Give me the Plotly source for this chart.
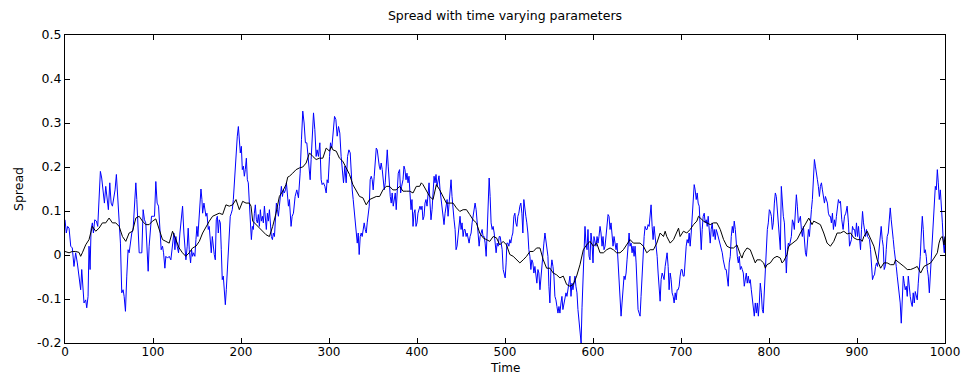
import plotly.graph_objects as go

# ---- data ----
t_blue = [
 0,1.5,3.0,4.6,6.5,8.3,10.2,12.1,14.0,15.9,17.8,19.0,20.5,21.6,23.5,24.7,26.2,27.3,28.5,29.6,
 31.1,32.3,33.8,35.7,37.2,38.7,40.2,41.7,43.3,44.8,46.3,47.8,49.3,50.9,52.4,53.9,55.4,56.9,58.4,60.0,
 61.5,63.0,64.5,66.0,67.2,68.7,70.2,71.7,72.9,74.4,75.9,77.4,78.9,80.5,81.6,82.7,84.3,85.8,87.3,88.8,
 90.3,91.8,93.4,94.5,95.6,96.8,98.3,100.2,101.7,103.2,104.7,106.3,107.8,109.3,110.8,112.0,113.5,114.6,116.5,118.4,120.3,
 122.2,123.7,124.9,126.0,127.5,129.0,130.6,132.1,133.6,135.1,136.2,137.4,138.9,140.0,141.2,142.7,143.8,145.0,146.1,147.6,
 148.8,149.9,151.0,152.2,153.3,154.5,155.6,156.4,157.9,159.0,160.2,161.3,162.8,163.9,165.1,166.2,167.4,168.5,169.6,170.8,
 171.9,173.1,174.2,175.3,176.5,177.6,178.7,179.9,181.0,182.2,183.3,184.4,185.6,186.7,187.8,189.0,190.1,191.3,192.4,193.5,
 194.7,195.8,197.0,198.1,199.2,200.4,201.5,202.7,203.8,204.9,206.1,207.2,208.3,209.5,210.6,211.8,212.9,214.0,215.2,216.3,
 217.5,218.6,219.7,220.9,222.0,223.1,224.3,225.4,226.6,227.7,228.8,230.0,231.1,232.3,233.4,234.5,235.7,236.8,238.0,239.1,
 240.2,241.4,242.5,243.6,244.8,245.9,247.1,248.2,249.3,250.5,251.6,252.7,253.9,255.0,
 256.9,258.1,259.6,261.5,263.4,265.3,267.2,268.7,270.2,271.7,273.2,274.8,275.9,277.0,278.6,279.7,280.8,282.4,283.9,285.4,
 286.5,288.0,289.6,291.1,292.2,293.7,295.3,296.8,297.9,299.0,300.6,301.7,303.2,304.7,306.3,307.8,309.3,310.8,312.3,313.8,
 315.4,316.5,318.0,319.5,321.1,322.6,324.1,325.2,326.4,327.5,328.6,329.8,330.9,332.1,333.2,334.3,335.5,336.6,337.7,338.9,
 340.0,341.2,342.3,343.4,344.6,345.7,346.8,348.0,349.1,350.2,351.4,352.5,353.7,354.8,355.9,357.1,358.2,359.3,360.5,361.6,
 362.8,363.9,365.0,366.2,367.3,368.4,369.6,370.7,371.8,373.0,374.1,375.3,376.4,377.5,378.7,380.2,
 381.4,382.5,384.1,385.2,386.3,387.5,388.6,389.8,390.9,392.0,393.2,394.3,395.5,396.6,397.7,398.9,400.0,401.1,402.3,403.4,
 404.6,405.7,406.8,408.0,409.1,410.2,411.4,412.5,413.7,414.8,415.9,417.1,418.2,419.4,420.5,421.6,422.8,423.9,425.0,426.2,
 427.3,428.5,429.6,430.7,431.9,433.0,434.2,435.3,436.4,437.6,438.7,439.8,441.0,442.1,443.3,444.4,445.5,446.7,447.8,448.9,
 450.1,451.2,452.4,453.5,454.6,455.8,456.9,458.1,459.2,460.3,461.5,462.6,463.8,464.9,466.0,467.2,468.3,469.4,470.6,471.7,
 472.9,474.0,475.1,476.3,477.4,478.6,479.7,480.8,482.0,483.1,484.2,485.4,486.5,487.7,488.8,489.9,491.1,492.2,493.4,494.5,
 495.6,496.8,497.9,499.1,500.2,501.3,
 502.1,503.2,504.4,505.5,506.6,507.8,508.9,510.1,511.2,512.3,513.5,514.6,515.7,516.9,518.0,519.2,520.3,521.4,522.6,523.7,
 524.8,526.0,527.1,528.3,529.4,530.5,531.7,532.8,534.0,535.1,536.2,537.4,538.5,539.7,540.8,541.9,543.1,544.2,545.4,546.5,
 547.6,548.8,549.9,551.0,552.2,553.3,554.5,555.6,556.7,557.9,559.0,560.2,561.3,562.4,563.6,564.7,565.8,567.0,568.1,569.3,
 570.4,571.5,572.7,573.8,575.0,576.1,577.2,578.4,579.5,580.6,581.8,582.9,584.1,586.5,587.5,588.6,589.8,590.9,592.0,593.2,
 594.3,595.5,596.6,597.7,598.9,600.0,601.1,602.3,603.4,604.6,605.7,606.8,608.0,609.1,610.3,611.4,612.5,613.7,614.8,615.9,
 617.1,618.2,619.4,620.5,621.6,622.8,623.9,625.1,626.2,627.3,628.5,629.6,
 630.7,631.9,633.0,634.2,635.3,636.4,637.6,638.7,639.8,641.0,642.1,643.3,644.4,645.5,646.7,647.8,649.0,650.1,651.2,652.4,
 653.5,654.6,655.8,656.9,658.1,659.2,660.3,661.5,662.6,663.8,664.9,666.0,667.2,668.3,669.4,670.6,671.7,672.9,674.0,675.1,
 676.3,677.4,678.6,679.7,680.8,682.0,683.1,684.2,685.4,686.5,687.7,688.8,689.9,691.1,692.2,693.4,694.5,695.6,696.8,697.9,
 699.0,700.2,701.3,702.5,703.6,704.7,705.9,707.0,708.2,709.3,710.4,711.6,712.7,713.9,715.0,716.1,717.3,718.4,719.5,720.7,
 721.8,723.0,724.1,725.2,726.4,727.5,728.7,729.8,730.9,732.1,733.2,734.3,735.5,736.6,737.8,738.9,740.0,741.2,742.3,743.5,
 744.6,745.7,746.9,748.0,749.1,750.3,751.4,752.6,753.7,754.8,756.0,
 757.1,758.3,759.4,760.5,761.7,762.8,764.0,765.1,766.2,767.4,768.5,769.6,770.8,771.9,773.1,774.2,775.3,776.5,777.6,778.7,
 779.9,781.0,782.2,783.3,784.4,785.6,786.7,787.9,789.0,790.1,791.3,792.4,793.5,794.7,795.8,797.0,798.1,799.2,800.4,801.5,
 802.7,803.8,804.9,806.1,807.2,808.3,809.5,810.6,811.8,812.9,814.0,815.2,816.3,817.5,818.6,819.7,820.9,822.0,823.1,824.3,
 825.4,826.6,827.7,828.8,830.0,831.1,832.2,833.4,834.5,835.7,836.8,837.9,839.1,840.2,841.4,842.5,843.6,844.8,845.9,847.0,
 848.2,849.3,850.5,851.6,852.7,853.9,855.0,856.1,857.3,858.4,859.6,860.7,861.8,863.0,864.1,865.3,866.4,867.5,868.7,869.8,
 870.9,872.1,873.2,874.4,875.5,876.6,877.8,878.9,880.0,881.2,
 882.7,884.2,885.8,887.3,888.8,890.3,891.5,892.6,893.7,894.9,896.0,897.2,898.3,899.4,900.6,901.7,902.8,904.0,905.1,906.3,
 907.4,908.5,909.7,910.8,912.0,913.1,914.2,915.4,916.5,917.6,918.8,919.9,921.1,922.2,923.3,924.5,925.6,926.7,927.5,928.7,
 929.8,930.9,932.1,933.2,934.3,935.5,936.6,937.8,938.9,940.0,941.2,942.3,943.5,944.6,945.7,946.9,948.0,949.1,950.3,951.4,
 952.6,953.7,954.8,956.0,957.1,958.3,959.4,960.5,961.7,962.8,963.9,965.1,966.2,967.4,968.5,969.6,970.8,971.9,973.1,974.2,
 975.3,976.5,977.6,978.7,979.9,981.0,982.2,983.3,984.4,985.6,986.7,987.9,989.0,990.1,991.3,992.4,993.5,994.7,995.8,997.0,
 998.1,999.2,1000,
]
spread_blue = [
 0.080,0.050,0.065,0.061,0.020,0.016,-0.026,0.005,-0.018,-0.056,-0.079,-0.033,-0.086,-0.109,-0.102,-0.120,-0.094,0.020,-0.033,0.058,
 0.073,0.050,0.080,0.077,0.065,0.141,0.190,0.175,0.148,0.118,0.156,0.126,0.103,0.164,0.118,0.111,0.133,0.148,0.183,0.126,
 0.058,0.027,-0.086,-0.079,-0.094,-0.128,-0.048,0.012,0.005,0.027,0.050,0.058,0.111,0.164,0.126,0.073,0.005,0.005,0.005,0.103,
 0.080,0.073,0.020,-0.037,0.020,0.050,0.088,0.088,0.088,0.167,0.118,0.111,0.050,0.012,0.020,0.005,-0.030,-0.003,-0.007,-0.003,-0.011,
 0.027,0.050,0.012,0.042,0.020,0.005,0.050,0.092,0.111,0.050,0.020,-0.011,0.020,0.061,0.012,-0.018,0.012,-0.003,0.005,-0.003,
 0.035,0.065,0.042,0.088,0.118,0.150,0.126,0.095,0.118,0.103,0.088,0.095,0.058,0.065,0.020,0.005,0.042,0.012,0.001,-0.011,
 0.080,0.088,0.050,0.080,0.073,0.012,-0.056,-0.048,-0.071,-0.113,-0.079,-0.033,-0.003,0.050,0.088,0.095,0.103,0.126,0.164,0.202,
 0.247,0.270,0.292,0.262,0.232,0.247,0.194,0.202,0.179,0.194,0.220,0.171,0.164,0.118,0.088,0.035,0.065,0.058,0.095,0.114,
 0.080,0.073,0.092,0.065,0.103,0.077,0.088,0.073,0.111,0.080,0.058,0.095,0.077,0.103,0.073,0.042,0.035,0.050,0.042,0.073,
 0.118,0.103,0.088,0.111,0.141,0.156,0.133,0.148,0.141,0.148,0.164,0.133,0.111,0.126,
 0.065,0.088,0.095,0.133,0.148,0.130,0.186,0.262,0.327,0.300,0.255,0.255,0.232,0.217,0.171,0.217,0.270,0.323,0.285,0.224,
 0.239,0.224,0.255,0.171,0.160,0.164,0.156,0.141,0.171,0.164,0.224,0.255,0.243,0.285,0.315,0.308,0.270,0.292,0.277,0.224,
 0.194,0.164,0.202,0.164,0.224,0.239,0.232,0.186,0.148,0.126,0.103,0.088,0.058,0.027,0.050,0.001,0.042,0.050,0.042,0.058,
 0.073,0.058,0.050,0.073,0.088,0.111,0.171,0.179,0.171,0.148,0.179,0.217,0.243,0.239,0.217,0.202,0.194,0.209,0.194,0.171,
 0.148,0.164,0.194,0.239,0.202,0.164,0.133,0.118,0.141,0.111,0.126,0.141,0.103,0.148,0.186,0.194,
 0.141,0.156,0.171,0.202,0.194,0.171,0.186,0.164,0.179,0.141,0.103,0.126,0.065,0.095,0.103,0.065,0.073,0.095,0.107,0.111,
 0.103,0.111,0.080,0.088,0.118,0.126,0.111,0.148,0.164,0.118,0.080,0.103,0.141,0.179,0.164,0.183,0.156,0.171,0.180,0.148,
 0.126,0.118,0.095,0.069,0.095,0.118,0.126,0.088,0.111,0.133,0.171,0.133,0.095,0.080,0.058,0.012,0.020,0.042,0.065,0.088,
 0.058,0.073,0.042,0.058,0.058,0.042,0.050,0.035,0.027,0.042,0.050,0.073,0.088,0.111,0.118,0.103,0.073,0.042,0.020,0.042,
 0.050,0.058,0.042,0.042,0.027,-0.003,0.050,0.103,0.175,0.133,0.073,0.058,0.065,0.050,0.020,0.005,0.027,0.020,0.042,0.042,
 0.027,0.012,-0.033,-0.041,-0.052,-0.018,
 0.027,0.027,0.020,0.035,0.027,0.042,0.050,0.088,0.095,0.073,0.065,0.088,0.095,0.111,0.118,0.095,0.050,0.126,0.095,0.088,
 0.073,0.050,0.012,-0.003,-0.033,-0.011,-0.018,-0.041,-0.026,-0.048,-0.064,-0.033,-0.041,-0.079,-0.048,-0.018,0.005,0.027,0.050,0.035,
 0.020,-0.003,-0.071,-0.109,-0.033,-0.011,-0.026,-0.048,-0.094,-0.102,-0.117,-0.132,-0.117,-0.132,-0.109,-0.094,-0.124,-0.109,-0.102,-0.086,
 -0.094,-0.079,-0.071,-0.048,-0.094,-0.064,-0.079,-0.056,-0.048,-0.071,-0.086,-0.124,-0.155,-0.200,-0.120,-0.048,0.012,0.065,0.027,0.012,
 0.058,-0.003,-0.011,0.050,0.027,-0.018,0.042,0.027,0.020,0.042,0.027,0.042,0.065,0.050,0.020,0.042,0.012,0.020,0.042,0.073,
 0.092,0.088,0.058,0.073,0.042,0.020,0.042,0.027,0.012,0.027,-0.011,-0.064,
 -0.094,-0.139,-0.109,-0.079,-0.048,-0.056,-0.041,-0.011,0.020,0.050,0.020,0.027,0.005,0.020,-0.003,0.020,-0.018,-0.079,-0.124,-0.132,
 -0.139,-0.094,-0.033,-0.003,0.042,0.065,0.058,0.058,0.069,0.065,0.088,0.114,0.065,0.035,0.065,0.042,0.027,-0.003,-0.041,-0.079,
 -0.105,-0.056,-0.041,-0.048,-0.056,-0.026,-0.011,0.005,-0.026,-0.079,-0.041,-0.056,-0.086,-0.094,-0.109,-0.086,-0.102,-0.079,-0.079,-0.071,
 -0.048,-0.033,-0.033,-0.048,-0.048,-0.011,0.020,0.035,0.027,0.050,0.020,0.050,0.088,0.133,0.160,0.148,0.126,0.141,0.118,0.111,
 0.058,0.012,0.058,0.088,0.095,0.073,0.080,0.065,0.088,0.058,0.027,0.058,0.073,0.042,0.058,0.035,0.058,0.050,0.042,0.027,
 0.020,0.012,0.005,-0.011,-0.026,-0.033,-0.033,-0.048,-0.071,-0.018,-0.003,
 0.042,0.065,0.050,0.077,0.058,0.020,-0.003,-0.018,-0.003,-0.033,-0.026,-0.033,-0.041,-0.071,-0.048,-0.041,-0.064,-0.048,-0.064,-0.056,
 -0.079,-0.102,-0.124,-0.139,-0.109,-0.132,-0.109,-0.139,-0.109,-0.064,-0.086,-0.124,-0.132,-0.079,-0.018,0.020,0.058,0.073,0.103,0.099,
 0.088,0.058,0.073,0.118,0.141,0.133,0.103,0.088,0.058,0.012,0.156,0.111,0.088,0.073,0.012,-0.041,0.012,0.027,0.020,0.035,
 0.042,0.080,0.073,0.058,0.111,0.137,0.111,0.073,0.080,0.088,0.058,0.042,0.065,0.035,0.005,-0.003,0.020,0.058,0.042,0.080,
 0.103,0.126,0.171,0.217,0.202,0.179,0.171,0.156,0.133,0.156,0.164,0.148,0.126,0.118,0.133,0.126,0.118,0.095,0.088,0.088,
 0.073,0.095,0.058,0.080,0.065,0.088,0.118,0.126,0.118,0.122,
 0.080,0.058,0.088,0.095,0.111,0.073,0.020,0.027,0.035,0.065,0.058,0.058,0.042,0.073,0.042,0.065,0.035,0.012,0.058,0.099,
 0.073,0.050,0.042,0.058,0.042,0.039,0.035,0.012,-0.018,-0.056,-0.048,-0.045,-0.026,-0.018,-0.026,-0.003,0.020,0.042,0.065,0.035,
 0.020,-0.033,-0.026,0.012,0.042,0.050,0.073,0.107,0.080,0.050,0.035,0.012,-0.003,-0.026,-0.048,-0.071,-0.079,-0.109,-0.155,-0.117,
 -0.048,-0.064,-0.079,-0.071,-0.094,-0.048,-0.079,-0.094,-0.109,-0.117,-0.086,-0.109,-0.083,-0.094,-0.102,-0.064,-0.033,-0.003,0.050,0.088,
 0.058,0.005,0.012,-0.003,-0.033,-0.048,-0.086,-0.048,-0.003,0.042,0.088,0.133,0.156,0.148,0.194,0.164,0.126,0.148,0.118,0.073,
 0.027,0.005,0.042,
]

t_black = [
 0,4.6,8.3,12.1,15.9,17.8,19.7,23.5,27.3,31.1,34.9,38.7,42.5,46.3,50.1,53.9,57.7,61.5,65.3,69.1,
 72.9,76.7,80.5,84.3,88.0,91.8,95.6,99.4,103.2,107.0,110.8,114.6,118.4,122.2,
 125.9,129.7,133.5,137.3,141.1,145.0,148.8,152.6,156.4,160.2,164.0,167.7,171.5,175.3,179.1,182.9,186.7,190.5,194.3,198.1,
 201.9,205.7,209.5,211.4,213.3,217.1,220.9,224.7,228.5,232.3,236.0,239.8,243.6,247.4,251.2,253.1,255.0,
 258.8,262.6,266.5,270.2,274.0,277.8,281.6,285.4,289.2,293.0,296.8,300.6,302.5,304.4,308.2,311.9,315.7,319.5,323.3,327.1,
 330.9,334.7,338.5,342.3,346.1,349.9,353.7,357.5,361.3,365.0,368.8,372.6,376.4,380.2,
 384.1,387.9,391.7,395.5,399.2,403.0,404.9,406.8,410.6,414.4,418.2,420.1,422.0,425.8,429.6,433.4,437.2,441.0,444.8,448.6,
 452.4,456.2,459.9,463.7,467.5,471.3,475.1,478.9,482.7,486.5,490.3,494.1,497.9,501.7,505.5,
 509.3,513.1,516.9,520.7,524.5,528.3,532.1,535.9,539.7,543.5,547.3,551.1,554.8,558.6,562.4,566.2,570.0,573.8,577.6,581.4,
 585.2,589.0,592.8,596.6,600.4,604.2,608.0,611.8,615.6,619.4,623.1,626.9,630.7,
 634.5,638.3,642.1,645.9,649.7,653.5,657.3,661.1,664.9,668.7,672.5,676.3,680.1,682.0,683.8,687.7,691.5,695.3,697.2,699.0,
 702.8,706.6,710.4,714.2,718.0,719.9,721.8,725.6,729.4,733.2,737.0,740.8,744.6,748.4,752.2,756.0,
 759.8,763.6,767.4,769.3,771.2,775.0,778.7,782.5,784.4,786.3,790.1,793.9,795.8,797.7,801.5,805.3,809.1,812.9,814.8,816.7,
 820.5,822.4,824.3,828.1,831.9,835.7,839.5,843.3,845.2,847.0,848.9,850.8,854.6,858.4,862.2,866.0,869.8,873.6,877.4,881.2,
 885.0,888.8,892.6,896.4,900.2,904.0,905.9,907.8,911.6,915.4,919.2,923.0,926.8,930.6,934.3,938.1,941.9,943.8,945.7,949.5,
 953.3,957.1,960.9,964.7,968.5,972.3,976.1,979.9,983.7,987.5,991.3,993.2,995.1,997.0,998.9,1000,
]
spread_black = [
 0.008,0.005,0.008,0.008,0.006,-0.003,0.005,0.023,0.035,0.065,0.054,0.061,0.073,0.073,0.084,0.073,0.073,0.065,0.042,0.031,
 0.050,0.054,0.084,0.088,0.077,0.069,0.069,0.077,0.082,0.058,0.035,0.031,0.027,0.054,
 0.035,0.016,0.005,-0.003,0.005,0.016,0.020,0.031,0.050,0.065,0.077,0.088,0.092,0.095,0.092,0.114,0.111,0.114,0.126,0.103,
 0.122,0.118,0.118,0.111,0.077,0.069,0.061,0.054,0.046,0.042,0.065,0.095,0.133,0.145,0.160,0.177,0.179,
 0.186,0.194,0.198,0.200,0.209,0.232,0.224,0.217,0.220,0.220,0.243,0.236,0.247,0.239,0.236,0.220,0.213,0.198,0.183,0.160,
 0.145,0.133,0.130,0.114,0.126,0.130,0.133,0.133,0.148,0.156,0.156,0.148,0.148,0.156,
 0.145,0.145,0.145,0.141,0.156,0.156,0.164,0.160,0.148,0.133,0.126,0.145,0.160,0.148,0.133,0.118,0.118,0.118,0.107,0.099,
 0.103,0.103,0.092,0.080,0.073,0.050,0.039,0.035,0.031,0.042,0.039,0.023,0.031,0.023,0.001,
 -0.003,-0.011,-0.018,-0.011,-0.003,0.008,0.008,0.016,0.016,-0.011,-0.030,-0.030,-0.041,-0.045,-0.052,-0.048,-0.067,-0.071,-0.067,-0.048,
 -0.022,0.012,0.023,0.031,0.020,0.027,0.005,0.005,0.012,0.016,0.012,0.005,0.005,
 0.012,0.023,0.035,0.027,0.027,0.027,0.020,0.005,0.012,0.012,0.027,0.050,0.042,0.054,0.042,0.027,0.035,0.050,0.061,0.042,
 0.054,0.050,0.058,0.069,0.077,0.088,0.084,0.077,0.073,0.069,0.073,0.073,0.058,0.035,0.020,0.016,
 0.016,0.023,0.001,-0.007,0.005,0.016,0.012,-0.007,-0.018,-0.011,-0.011,-0.018,-0.030,-0.022,-0.018,-0.007,-0.003,-0.007,-0.018,-0.014,
 0.001,0.020,0.023,0.031,0.035,0.050,0.065,0.080,0.084,0.077,0.069,0.077,0.073,0.069,0.050,0.027,0.020,0.031,0.050,0.050,
 0.054,0.048,0.050,0.039,0.035,0.035,0.031,0.042,0.054,0.035,0.020,-0.011,-0.030,-0.018,-0.018,-0.022,-0.022,-0.011,-0.014,-0.018,
 -0.026,-0.033,-0.033,-0.030,-0.026,-0.041,-0.026,-0.022,-0.018,-0.007,0.005,0.027,0.039,0.042,0.023,0.042,
]

x_ticks = [0, 100, 200, 300, 400, 500, 600, 700, 800, 900, 1000]
y_ticks = [-0.2, -0.1, 0, 0.1, 0.2, 0.3, 0.4, 0.5]
y_tick_labels = ["-0.2", "-0.1", "0", "0.1", "0.2", "0.3", "0.4", "0.5"]

FONT = "DejaVu Sans, Liberation Sans, Arial, sans-serif"
FS = 12.5

fig = go.Figure()
fig.add_trace(go.Scatter(x=t_blue, y=spread_blue, mode="lines",
                         line=dict(color="#0000FF", width=1), showlegend=False))
fig.add_trace(go.Scatter(x=t_black, y=spread_black, mode="lines",
                         line=dict(color="#000000", width=1), showlegend=False))

axis_common = dict(showline=True, linecolor="black", linewidth=1, mirror="ticks",
                   ticks="inside", ticklen=5, tickcolor="black", tickwidth=1,
                   showgrid=False, zeroline=False, automargin=False)

fig.update_xaxes(range=[0, 1000], tickvals=x_ticks, ticklabelstandoff=-2,
                 tickfont=dict(family=FONT, size=12, color="black"), **axis_common)
fig.update_yaxes(range=[-0.2, 0.5], tickvals=y_ticks, ticktext=y_tick_labels,
                 tickfont=dict(family=FONT, size=FS, color="black"), **axis_common)

fig.update_layout(
    width=961, height=376,
    margin=dict(l=65, r=16, t=35, b=33, autoexpand=False),
    paper_bgcolor="white", plot_bgcolor="white",
    title=dict(text="Spread with time varying parameters", x=0.5, xref="paper",
               y=1 - 16 / 376, yref="container", yanchor="middle", xanchor="center",
               font=dict(family=FONT, size=FS, color="black")),
    annotations=[
        dict(text="Time", x=0.5, y=0, xref="paper", yref="paper",
             xanchor="center", yanchor="bottom", yshift=-32.5, borderpad=0, showarrow=False,
             font=dict(family=FONT, size=12, color="black")),
        dict(text="Spread", x=0, y=0.5, xref="paper", yref="paper",
             xanchor="center", yanchor="middle", xshift=-47, textangle=-90, showarrow=False,
             font=dict(family=FONT, size=FS, color="black")),
    ],
)

fig.write_html("out.html", config={"displayModeBar": False},
               post_script="document.body.style.margin='0';document.body.style.overflow='hidden';")
